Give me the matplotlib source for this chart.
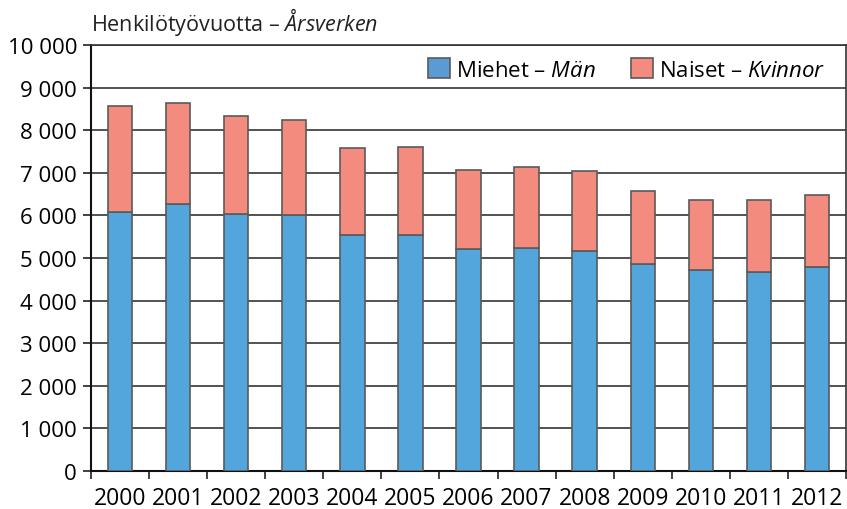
import numpy as np
import matplotlib
matplotlib.use('Agg')
import matplotlib.pyplot as plt
from matplotlib.ticker import FuncFormatter

# data (person-years)
years = ['2000', '2001', '2002', '2003', '2004', '2005', '2006',
         '2007', '2008', '2009', '2010', '2011', '2012']
men = [6090, 6270, 6030, 6010, 5530, 5530, 5210, 5235, 5170, 4850, 4725, 4670, 4795]
totals = [8560, 8630, 8340, 8250, 7575, 7600, 7070, 7130, 7035, 6565, 6360, 6360, 6470]
women = [t - m for t, m in zip(totals, men)]

plt.rcParams['font.family'] = ['Open Sans', 'DejaVu Sans']
plt.rcParams['mathtext.fontset'] = 'custom'
plt.rcParams['mathtext.it'] = 'Open Sans:italic'
plt.rcParams['mathtext.rm'] = 'Open Sans'

blue = '#53a6dc'
salmon = '#f38c7e'
edge = '#5a5a5a'

fig = plt.figure(figsize=(8.47, 5.10), dpi=100)
ax = fig.add_axes([0.1074, 0.0745, 0.8914, 0.8353])

x = np.arange(len(years))
ax.bar(x, men, width=0.42, color=blue, edgecolor=edge, linewidth=1.2, zorder=3,
       label='Miehet – $\\it{Män}$')
ax.bar(x, women, width=0.42, bottom=men, color=salmon, edgecolor=edge, linewidth=1.2,
       zorder=3, label='Naiset – $\\it{Kvinnor}$')

ax.set_xlim(-0.5, len(years) - 0.5)
ax.set_ylim(0, 10000)
ax.set_yticks(np.arange(0, 10001, 1000))
ax.yaxis.set_major_formatter(FuncFormatter(lambda v, p: f'{int(v):,}'.replace(',', ' ')))
ax.grid(axis='y', color='#444444', linewidth=1.3, zorder=0)

# category labels centred, tick marks at the boundaries
ax.set_xticks(x)
ax.set_xticklabels(years)
ax.set_xticks(np.arange(-0.5, len(years), 1), minor=True)
ax.tick_params(axis='x', which='major', length=0, pad=11, labelsize=16.5)
ax.tick_params(axis='x', which='minor', length=6, width=1.2, color='#222222')
ax.tick_params(axis='y', length=6, width=1.2, color='#222222', labelsize=16, pad=4)

for s in ['left', 'bottom']:
    ax.spines[s].set_color('#111111')
    ax.spines[s].set_linewidth(1.5)
for s in ['top', 'right']:
    ax.spines[s].set_color('#333333')
    ax.spines[s].set_linewidth(1.2)

leg = ax.legend(loc='upper right', bbox_to_anchor=(0.99, 1.0), ncol=2, frameon=False,
                fontsize=16, handlelength=1.0, handleheight=1.0, handletextpad=0.25,
                columnspacing=1.6, borderaxespad=0.2)
for h in leg.legend_handles:
    h.set_edgecolor(edge)
leg.legend_handles[0].set_facecolor('#5b9bd5')

fig.text(0.1074, 0.957, 'Henkilötyövuotta – $\\it{Årsverken}$', fontsize=15.5,
         ha='left', va='center', color='#222222')

fig.savefig('out.png', dpi=100)
